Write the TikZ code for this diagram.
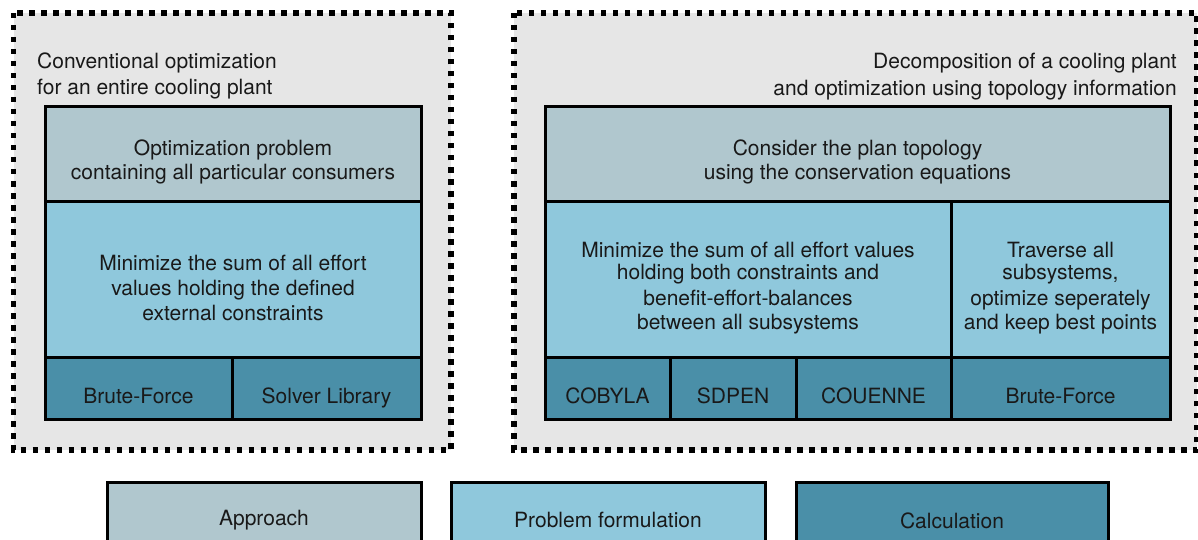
\documentclass[tikz,border=0pt]{standalone}
\usepackage{fontspec}
\setmainfont{TeX Gyre Heros}
\definecolor{bggray}{HTML}{E6E6E6}
\definecolor{apcol}{HTML}{B0C7CE}
\definecolor{prcol}{HTML}{8FC8DC}
\definecolor{cacol}{HTML}{4A8FA8}
\tikzset{
  bgbox/.style={fill=bggray, draw=black, line width=5.5pt, dash pattern=on 5.5pt off 6.5pt},
  cell/.style={draw=black, line width=3pt, inner sep=0pt, outer sep=0pt, anchor=north west},
  appr/.style={cell, fill=apcol},
  prob/.style={cell, fill=prcol},
  calc/.style={cell, fill=cacol},
  txt/.style={align=center, inner sep=0pt, text=black!90, font=\fontsize{21}{25}\selectfont},
}
\begin{document}
\begin{tikzpicture}[x=1pt,y=-1pt]
\useasboundingbox (0,0) rectangle (1198,540);
\clip (0,0) rectangle (1198,540);
% outer groups
\path[bgbox] (13.5,13) rectangle (451,450);
\path[bgbox] (514,13) rectangle (1197,450);
% titles
\node[txt, font=\fontsize{21}{26.5}\selectfont, align=left, anchor=north west] (ltitle) at (37,52.5) {Conventional optimization\\for an entire cooling plant};
\node[txt, font=\fontsize{21}{27.5}\selectfont, align=right, anchor=north east] (rtitle) at (1177,52.5) {Decomposition of a cooling plant\\and optimization using topology information};
% left cells
\node[appr, minimum width=376pt, minimum height=94pt] (lA) at (45,107) {};
\node[prob, minimum width=376pt, minimum height=156pt] (lP) at (45,201) {};
\node[calc, minimum width=187pt, minimum height=62pt] (lC1) at (45,357) {};
\node[calc, minimum width=189pt, minimum height=62pt] (lC2) at (232,357) {};
% right cells
\node[appr, minimum width=625pt, minimum height=94pt] (rA) at (545,107) {};
\node[prob, minimum width=406pt, minimum height=156pt] (rP1) at (545,201) {};
\node[prob, minimum width=219pt, minimum height=156pt] (rP2) at (951,201) {};
\node[calc, minimum width=125pt, minimum height=62pt] (rC1) at (545,357) {};
\node[calc, minimum width=126pt, minimum height=62pt] (rC2) at (670,357) {};
\node[calc, minimum width=155pt, minimum height=62pt] (rC3) at (796,357) {};
\node[calc, minimum width=219pt, minimum height=62pt] (rC4) at (951,357) {};
% legend
\node[appr, minimum width=314pt, minimum height=80pt] (gA) at (107,482) {};
\node[prob, minimum width=314pt, minimum height=80pt] (gP) at (451,482) {};
\node[calc, minimum width=312pt, minimum height=80pt] (gC) at (796,482) {};
% texts
\node[txt, font=\fontsize{21}{24}\selectfont] (tlA) at (233,162) {Optimization problem\\containing all particular consumers};
\node[txt] (tlP) at (233,287.5) {Minimize the sum of all effort\\values holding the defined\\external constraints};
\node[txt, anchor=base] (tlC1) at (138.5,403) {Brute-Force};
\node[txt, anchor=base] (tlC2) at (326.5,403) {Solver Library};
\node[txt, font=\fontsize{21}{24}\selectfont] (trA) at (857.5,162) {Consider the plan topology\\using the conservation equations};
\node[txt, font=\fontsize{21}{22.5}\selectfont] (trP1) at (748,288) {Minimize the sum of all effort values\\holding both constraints and\\[3.5pt]benefit-effort-balances\\[1.5pt]between all subsystems};
\node[txt, font=\fontsize{21}{22.5}\selectfont] (trP2) at (1060.5,288) {Traverse all\\subsystems,\\[3.5pt]optimize seperately\\[1.5pt]and keep best points};
\node[txt, anchor=base] (trC1) at (607.5,403) {COBYLA};
\node[txt, anchor=base] (trC2) at (733,403) {SDPEN};
\node[txt, anchor=base] (trC3) at (873.5,403) {COUENNE};
\node[txt, anchor=base] (trC4) at (1060.5,403) {Brute-Force};
\node[txt, anchor=base] (tgA) at (264,525) {Approach};
\node[txt, anchor=base] (tgP) at (608,527) {Problem formulation};
\node[txt, anchor=base] (tgC) at (952,528) {Calculation};
\end{tikzpicture}
\end{document}
